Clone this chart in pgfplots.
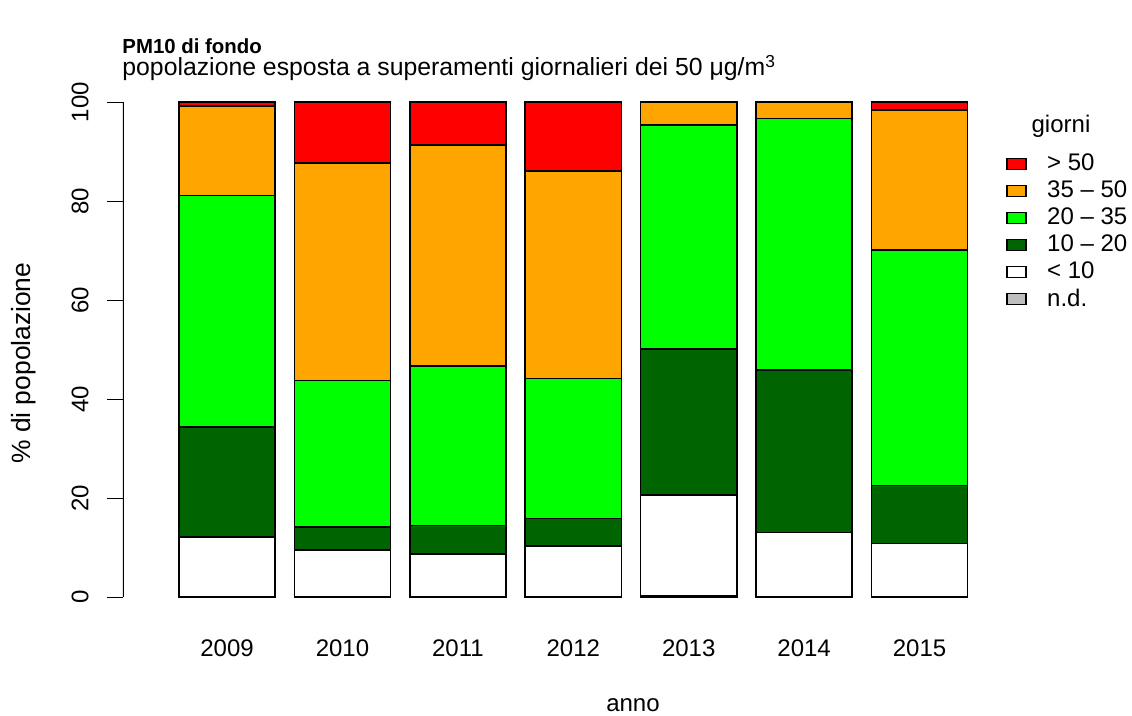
\documentclass[border=0pt]{standalone}
\usepackage{pgfplots}
\usepackage{pgfplotstable}
\pgfplotsset{compat=1.18}
\usepackage{fontspec}
\setmainfont{Liberation Sans}
\definecolor{rred}{RGB}{255,0,0}
\definecolor{rorange}{RGB}{255,165,0}
\definecolor{rgreen}{RGB}{0,255,0}
\definecolor{rdkgreen}{RGB}{0,100,0}
\definecolor{rgray}{RGB}{190,190,190}
\pgfplotstableread{
x nd lt10 g1020 g2035 g3550 gt50
0.7 0 12.2 22.2 46.8 18.1 0.7
1.9 0 9.5 4.7 29.6 43.9 12.3
3.1 0 8.8 5.7 32.2 44.7 8.6
4.3 0 10.4 5.5 28.3 41.9 13.9
5.5 0.3 20.4 29.4 45.3 4.6 0
6.7 0 13.1 32.8 50.8 3.3 0
7.9 0 10.9 11.7 47.6 28.2 1.6
}\datatable
\pgfplotsset{myleg/.style={legend image code/.code={\draw[##1, line width=0.6pt] (0pt,-2.8pt) rectangle (9.5pt,2.8pt);}}}
\newcommand{\fs}{\fontsize{12}{14}\selectfont}
\begin{document}
\begin{tikzpicture}
\path[use as bounding box] (0,0) rectangle (566pt,358pt);
\begin{axis}[
  at={(61.5pt,49.45pt)}, anchor=south west,
  scale only axis, width=438.1pt, height=267.3pt,
  xmin=-0.382, xmax=8.728, ymin=-4, ymax=104,
  ybar stacked, bar width=1, bar shift=0pt,
  axis line style={draw=none},
  xtick={0.7,1.9,3.1,4.3,5.5,6.7,7.9},
  xticklabels={2009,2010,2011,2012,2013,2014,2015},
  x tick style={draw=none},
  ytick={0,20,40,60,80,100},
  ytick pos=left, xtick pos=bottom,
  tick align=outside, major tick length=8pt,
  y tick style={black, line width=0.75pt},
  tick label style={font=\fs},
  /pgf/number format/assume math mode=true,
  yticklabel style={rotate=90, anchor=south, inner sep=0pt},
  yticklabel shift=9pt,
  xticklabel style={anchor=north, inner sep=0pt},
  xticklabel shift=3.2pt,
  ylabel={\% di popolazione},
  ylabel style={font=\fontsize{13.2}{15}\selectfont, at={(axis description cs:-0.113,0.475)}, anchor=center, inner sep=0pt},
  xlabel={anno},
  xlabel style={font=\fs, at={(axis description cs:0.582,-0.164)}, anchor=center, inner sep=0pt},
  legend style={at={(axis description cs:1.0078,0.8734)}, anchor=north west, draw=none, fill=none,
    inner sep=0pt, font=\fs, row sep=0pt,
    nodes={inner sep=0pt, minimum height=13.5pt},
    /tikz/every odd column/.append style={column sep=10.3pt}},
  legend cell align=left,
  reverse legend,
]
\addplot[fill=rgray, draw=black, line width=0.8pt, myleg] table[x=x,y=nd]{\datatable};
\addlegendentry{n.d.}
\addplot[fill=white, draw=black, line width=0.8pt, myleg] table[x=x,y=lt10]{\datatable};
\addlegendentry{< 10}
\addplot[fill=rdkgreen, draw=black, line width=0.8pt, myleg] table[x=x,y=g1020]{\datatable};
\addlegendentry{10 – 20}
\addplot[fill=rgreen, draw=black, line width=0.8pt, myleg] table[x=x,y=g2035]{\datatable};
\addlegendentry{20 – 35}
\addplot[fill=rorange, draw=black, line width=0.8pt, myleg] table[x=x,y=g3550]{\datatable};
\addlegendentry{35 – 50}
\addplot[fill=rred, draw=black, line width=0.8pt, myleg] table[x=x,y=gt50]{\datatable};
\addlegendentry{> 50}
\draw[line width=0.75pt] (axis cs:-0.382,0) -- (axis cs:-0.382,100);
\end{axis}
\node[anchor=base west, inner sep=0pt, font=\bfseries\fontsize{10.2}{12}\selectfont] at (61pt,331pt) {PM10 di fondo};
\node[anchor=base west, inner sep=0pt, font=\fontsize{12.4}{14}\selectfont] at (61pt,320pt) {popolazione esposta a superamenti giornalieri dei 50 μg/m\textsuperscript{3}};
\node[anchor=base, inner sep=0pt, font=\fs] at (530.5pt,291.5pt) {giorni};
\end{tikzpicture}
\end{document}
